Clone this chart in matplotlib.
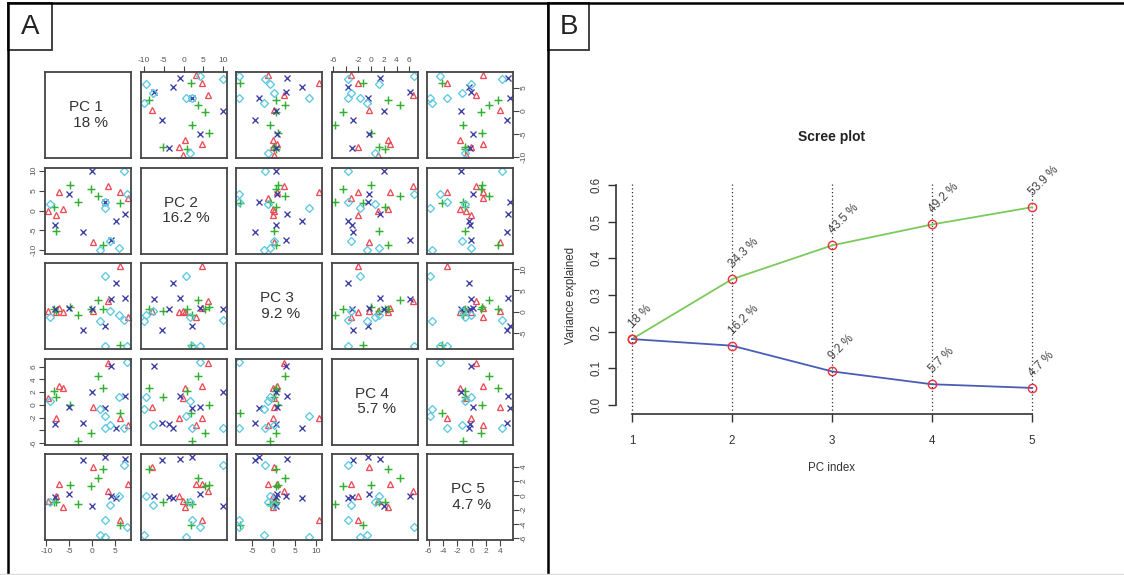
import matplotlib
matplotlib.use("Agg")
import matplotlib.pyplot as plt
from matplotlib.lines import Line2D
from matplotlib.patches import Rectangle

plt.rcParams['font.family'] = ['Liberation Sans', 'DejaVu Sans']

# ---------------- data ----------------
groups = ['red', 'green', 'blue', 'cyan']
group_sizes = [8, 8, 8, 8]
pc1 = [-9.6, -8.0, -7.2, -6.4, 0.15, 3.4, 6.2, 7.8,
       -8.3, -7.9, -4.8, -3.0, -0.3, 1.2, 2.4, 6.0,
       -8.1, -5.0, -2.0, -0.1, 2.8, 4.2, 5.2, 7.1,
       -9.3, 1.7, 3.8, 5.8, 7.0, 7.7, 2.9, 2.8]
pc2 = [-0.1, -1.1, 4.7, 0.5, -7.8, 6.1, 4.7, 3.2,
       0.8, -5.1, 6.5, 2.2, 5.5, 3.6, -8.6, 1.9,
       -3.6, 4.2, -5.4, 9.8, 2.2, -7.3, -2.6, -1.0,
       1.7, -10.0, -7.6, -9.4, 10.0, 4.2, 0.7, 2.2]
pc3 = [0.1, -0.2, 0.8, -0.1, 0.2, 2.4, 10.6, -1.2,
       0.5, 0.2, 1.0, -0.8, 0.7, 2.8, 0.6, -7.7,
       0.5, 0.9, -4.2, 0.5, -3.4, 3.0, 6.7, 3.1,
       -1.3, -2.3, 0.1, -0.7, -1.9, -8.0, 8.4, -8.0]
pc4 = [1.0, -2.1, 2.9, 2.6, -0.3, 6.6, -2.1, -3.1,
       2.2, 1.3, 0.0, -5.75, -4.5, 4.5, 2.6, -1.3,
       -3.0, -0.4, -2.8, 2.1, -0.5, 6.05, -3.7, 1.4,
       0.6, -0.7, -3.1, 1.3, -3.7, 6.8, -1.7, -3.6]
pc5 = [-0.8, -0.05, 1.6, -1.6, 3.9, 0.55, -3.5, 1.6,
       -0.9, -0.9, 1.4, -1.2, 1.25, 2.4, 3.6, -4.2,
       -0.3, 0.1, 4.9, -1.45, 5.3, -0.05, -0.4, 5.1,
       -1.0, -5.5, -1.4, -0.05, 4.2, -4.4, -5.8, -3.5]

var_pct = [18, 16.2, 9.2, 5.7, 4.7]
cum_pct = [18, 34.3, 43.5, 49.2, 53.9]
pc_index = [1, 2, 3, 4, 5]

pc_ticks = [[-10, -5, 0, 5],
            [-10, -5, 0, 5, 10],
            [-5, 0, 5, 10],
            [-6, -4, -2, 0, 2, 4, 6],
            [-6, -4, -2, 0, 2, 4]]
pc_ticklabels = [['-10', '-5', '0', '5'],
                 ['-10', '-5', '0', '5', '10'],
                 ['-5', '0', '5', '10'],
                 ['-6', '', '-2', '0', '2', '4', '6'],
                 ['-6', '-4', '-2', '0', '2', '4']]
scree_yticks = [0.0, 0.1, 0.2, 0.3, 0.4, 0.5, 0.6]

# ---------------- styles ----------------
styles = {
    'red':   dict(marker='^', color='#EE4B57', mfc='none', ms=4.4, mew=0.95),
    'green': dict(marker='+', color='#33B033', ms=6.2, mew=1.05),
    'blue':  dict(marker='x', color='#3A3AA6', ms=4.0, mew=0.95),
    'cyan':  dict(marker='D', color='#5CC9E2', mfc='none', ms=3.8, mew=0.95),
}

W, H = 1124, 575
fig = plt.figure(figsize=(W / 100, H / 100), dpi=100)
fig.patch.set_facecolor('white')


def rect(l, t, w, h):
    return [l / W, 1 - (t + h) / H, w / W, h / H]


pcs = [pc1, pc2, pc3, pc4, pc5]


def lims(v):
    lo, hi = min(v), max(v)
    r = hi - lo
    return lo - 0.04 * r, hi + 0.04 * r


col_left = [45, 140.5, 236, 331.5, 427]
row_top = [72, 167.5, 263, 358.5, 454]
size = 86
tick_color = '#555555'
box_color = '#444444'

for i in range(5):
    for j in range(5):
        ax = fig.add_axes(rect(col_left[j], row_top[i], size, size))
        ax.set_xlim(*lims(pcs[j]))
        ax.set_ylim(*lims(pcs[i]))
        for s in ax.spines.values():
            s.set_color(box_color)
            s.set_linewidth(1.3)
        if i == j:
            ax.text(0.5, 0.5, f"PC {i + 1} \n {var_pct[i]:g} %", transform=ax.transAxes,
                    ha='center', va='center', fontsize=11, color='#333333',
                    linespacing=1.15, multialignment='center')
        else:
            start = 0
            for g, n in zip(groups, group_sizes):
                xs = pcs[j][start:start + n]
                ys = pcs[i][start:start + n]
                ax.plot(xs, ys, ls='none', **styles[g])
                start += n
        ax.set_xticks([])
        ax.set_yticks([])
        tp = dict(direction='out', length=4, width=0.8, colors=box_color,
                  labelsize=6, labelcolor=tick_color, pad=1.5)
        if i == 4 and j in (0, 2, 4):
            ax.set_xticks(pc_ticks[j])
            ax.set_xticklabels(pc_ticklabels[j])
            ax.xaxis.set_ticks_position('bottom')
            ax.tick_params(axis='x', **tp)
        if i == 0 and j in (1, 3):
            ax.set_xticks(pc_ticks[j])
            ax.set_xticklabels(pc_ticklabels[j])
            ax.xaxis.set_ticks_position('top')
            ax.tick_params(axis='x', **tp)
        if j == 0 and i in (1, 3):
            ax.set_yticks(pc_ticks[i])
            ax.set_yticklabels(pc_ticklabels[i], rotation=90, va='center')
            ax.yaxis.set_ticks_position('left')
            ax.tick_params(axis='y', **tp)
        if j == 4 and i in (0, 2, 4):
            ax.set_yticks(pc_ticks[i])
            ax.set_yticklabels(pc_ticklabels[i], rotation=90, va='center')
            ax.yaxis.set_ticks_position('right')
            ax.tick_params(axis='y', **tp)

# ---------------- scree plot ----------------
ax = fig.add_axes(rect(616, 176, 432, 238))
ax.set_xlim(0.84, 5.16)
ax.set_ylim(-0.024, 0.624)
for s in ('top', 'right'):
    ax.spines[s].set_visible(False)
ax.spines['left'].set_bounds(0.0, 0.6)
ax.spines['bottom'].set_bounds(1, 5)
for s in ('left', 'bottom'):
    ax.spines[s].set_color('#333333')
    ax.spines[s].set_linewidth(1.2)
ax.set_xticks(pc_index)
ax.set_yticks(scree_yticks)
ax.set_yticklabels([f"{v:.1f}" for v in scree_yticks], rotation=90, va='center')
ax.tick_params(axis='both', direction='out', length=6, width=1.0, colors='#333333',
               labelsize=8.3, labelcolor='#333333')
ax.tick_params(axis='y', pad=4)
ax.tick_params(axis='x', pad=9)
for x in pc_index:
    ax.axvline(x, ymax=0.975, color='#333333', lw=0.9, ls=(0, (1, 2)), zorder=1)

var_frac = [p / 100 for p in var_pct]
cum_frac = [p / 100 for p in cum_pct]
ax.plot(pc_index, cum_frac, color='#7CC95C', lw=1.3, zorder=2)
ax.plot(pc_index, var_frac, color='#4A5DB5', lw=1.3, zorder=2)
ax.plot(pc_index, cum_frac, ls='none', marker='o', ms=6, mfc='none', mec='#E8323C', mew=1.0, zorder=3)
ax.plot(pc_index, var_frac, ls='none', marker='o', ms=6, mfc='none', mec='#E8323C', mew=1.0, zorder=3)
labels = {}
for x, p, v in list(zip(pc_index, cum_pct, cum_frac)) + list(zip(pc_index, var_pct, var_frac)):
    labels[(x, p)] = v
for (x, p), v in labels.items():
    ax.annotate(f"{p:g} %", (x, v), xytext=(1, 11), textcoords='offset pixels',
                rotation=45, rotation_mode='anchor', ha='left', va='baseline',
                fontsize=8.5, color='#444444')

fig.text(832 / W, 1 - 137 / H, "Scree plot", ha='center', va='center',
         fontsize=10, fontweight='bold', color='#222222')
fig.text(832 / W, 1 - 468 / H, "PC index", ha='center', va='center',
         fontsize=8.3, color='#333333')
fig.text(571 / W, 1 - 295 / H, "Variance explained", ha='center', va='center',
         rotation=90, fontsize=8.3, color='#333333')

# ---------------- frames & panel labels ----------------
def fline(x0, y0, x1, y1, color='black', lw=1.8):
    fig.add_artist(Line2D([x0 / W, x1 / W], [1 - y0 / H, 1 - y1 / H],
                          color=color, lw=lw, transform=fig.transFigure))


fline(8, 3, W, 3)
fline(8, 3, 8, 573)
fline(548, 3, 548, 575)
fline(0, 574, W, 574, color='#DDDDDD', lw=1.0)

for (l, t, w, h, lab) in [(8, 3, 44, 47, 'A'), (548, 3, 41, 47, 'B')]:
    fig.add_artist(Rectangle((l / W, 1 - (t + h) / H), w / W, h / H,
                             transform=fig.transFigure, facecolor='white',
                             edgecolor='#333333', lw=1.3))
    fig.text((l + w / 2) / W, 1 - (t + h / 2 + 1) / H, lab, ha='center', va='center',
             fontsize=20, color='#222222')

fig.savefig('out.png', dpi=100)
